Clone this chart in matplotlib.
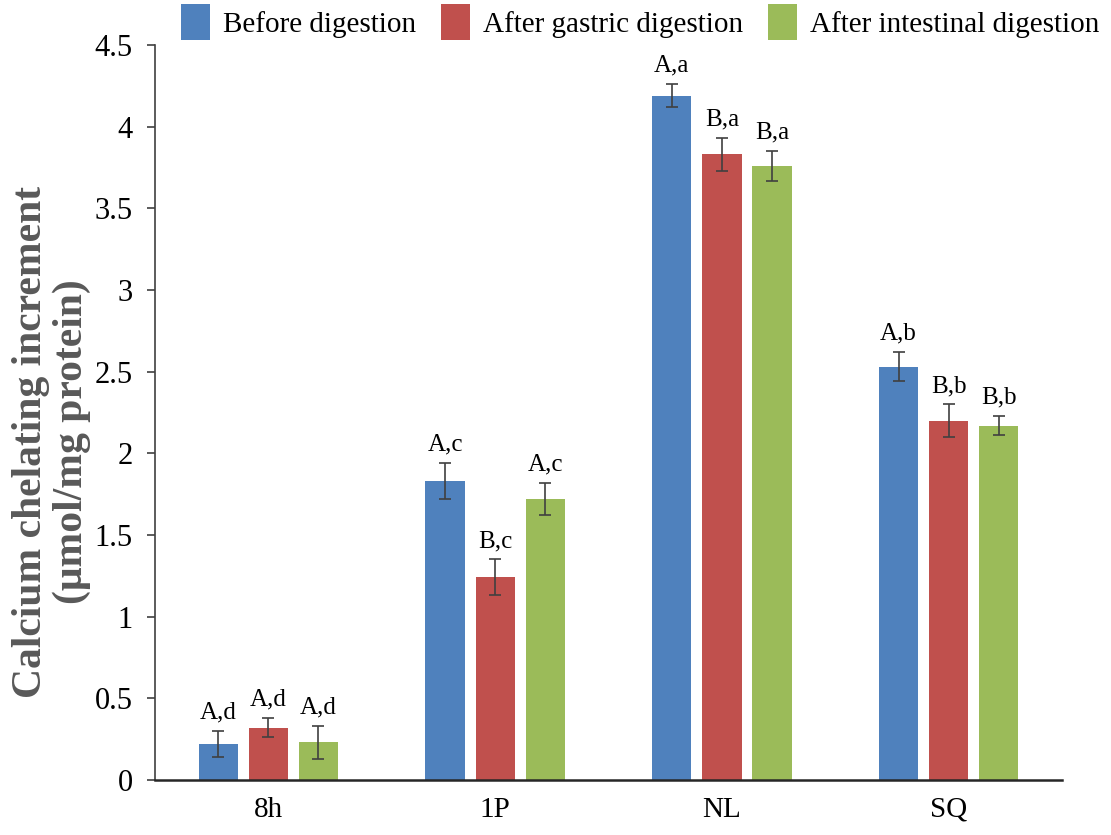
import numpy as np
import matplotlib
matplotlib.use("Agg")
import matplotlib.pyplot as plt

samples = ["8h", "1P", "NL", "SQ"]
series_names = ["Before digestion", "After gastric digestion", "After intestinal digestion"]
colors = ["#4F81BD", "#C0504D", "#9BBB59"]

before = [0.22, 1.83, 4.19, 2.53]
gastric = [0.32, 1.24, 3.83, 2.20]
intestinal = [0.23, 1.72, 3.76, 2.17]

before_err = [0.08, 0.11, 0.07, 0.09]
gastric_err = [0.06, 0.11, 0.10, 0.10]
intestinal_err = [0.10, 0.10, 0.09, 0.06]

before_lbl = ["A,d", "A,c", "A,a", "A,b"]
gastric_lbl = ["A,d", "B,c", "B,a", "B,b"]
intestinal_lbl = ["A,d", "A,c", "B,a", "B,b"]

plt.rcParams['font.family'] = ['Liberation Serif', 'DejaVu Serif']

fig = plt.figure(figsize=(11.11, 8.35), dpi=100)
ax = fig.add_axes([0.1395, 0.066, 0.8165, 0.88])

x = np.arange(len(samples))
width = 0.173
pitch = 0.221
values = [before, gastric, intestinal]
errors = [before_err, gastric_err, intestinal_err]
labels = [before_lbl, gastric_lbl, intestinal_lbl]

for i, (vals, errs, lbls) in enumerate(zip(values, errors, labels)):
    pos = x + (i - 1) * pitch
    ax.bar(pos, vals, width, color=colors[i], label=series_names[i],
           yerr=errs, error_kw=dict(ecolor='#404040', elinewidth=1.2, capsize=4, capthick=1.2))
    for p, v, e, t in zip(pos, vals, errs, lbls):
        ax.text(p, v + e + 0.045, t, ha='center', va='bottom', fontsize=18)

ax.set_xlim(-0.5, 3.5)
ax.set_ylim(0, 4.5)
ax.set_yticks(np.arange(0, 4.51, 0.5))
ax.set_yticklabels(["0", "0.5", "1", "1.5", "2", "2.5", "3", "3.5", "4", "4.5"])
ax.set_xticks(x)
ax.set_xticklabels(samples)
ax.tick_params(axis='y', labelsize=22, direction='out', length=6, width=1.2, colors='#404040',
               labelcolor='black', pad=10)
ax.tick_params(axis='x', labelsize=21, length=0, pad=12)
for side in ['top', 'right']:
    ax.spines[side].set_visible(False)
ax.spines['left'].set_color('#404040')
ax.spines['left'].set_linewidth(1.2)
ax.spines['bottom'].set_color('#262626')
ax.spines['bottom'].set_linewidth(1.8)

ax.set_ylabel("Calcium chelating increment\n(\u03bcmol/mg protein)", fontsize=30,
              fontweight='bold', color='#595959', linespacing=1.1)
ax.yaxis.set_label_coords(-0.07, 0.46)

fig.legend(*ax.get_legend_handles_labels(), loc='upper right',
           bbox_to_anchor=(1104 / 1111, 1.0), ncol=3, frameon=False,
           fontsize=21, handlelength=1.0, handleheight=1.5, handletextpad=0.45,
           columnspacing=0.85, borderpad=0.05, borderaxespad=0.1)

fig.savefig("out.png", dpi=100)
